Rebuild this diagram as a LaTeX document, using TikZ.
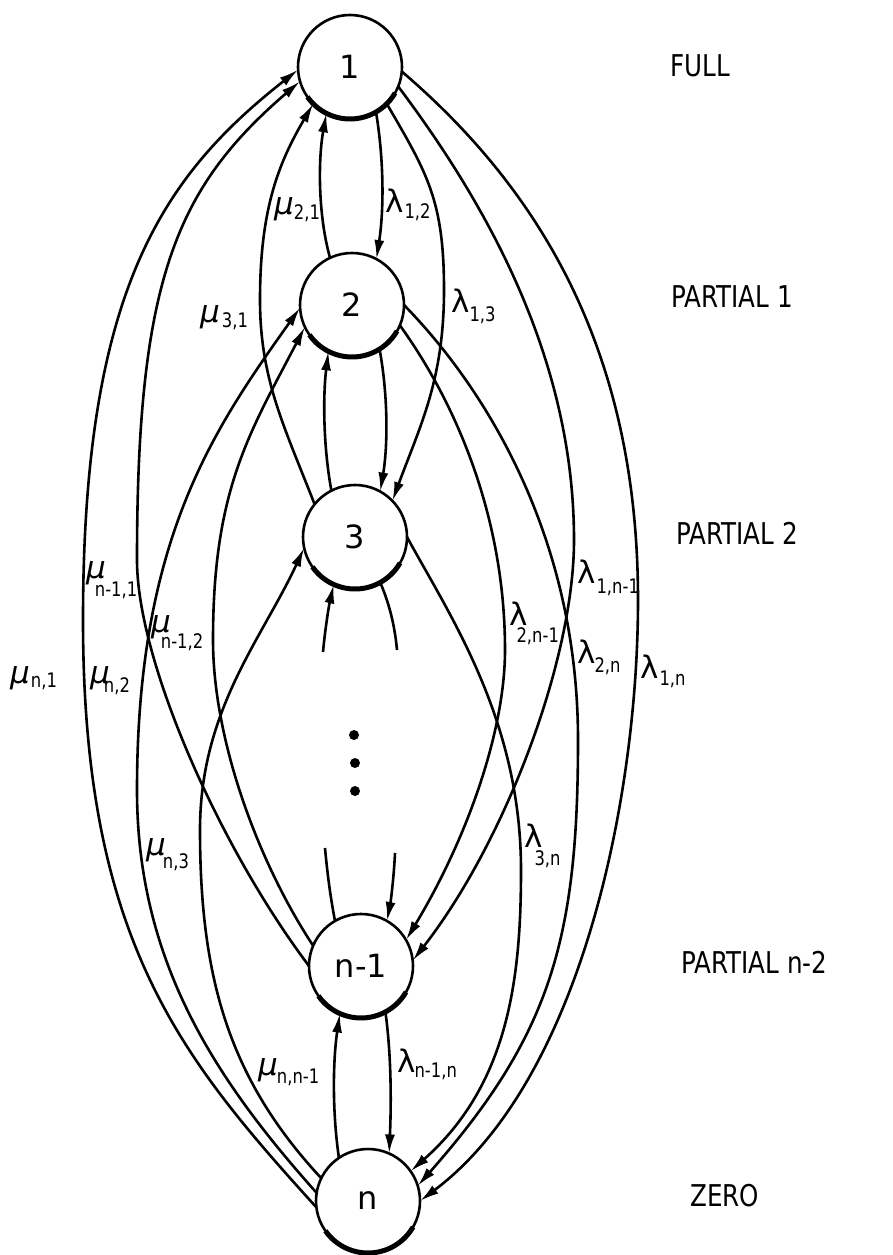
\documentclass[tikz,border=0pt]{standalone}
\usepackage{fontspec}
\setmainfont{DejaVu Sans}
\newfontfamily\cond[FakeStretch=0.82]{DejaVu Sans}
\usetikzlibrary{arrows.meta}
\newcommand{\subf}{\cond\fontsize{20}{20}\selectfont}
\newcommand{\gm}[3]{{\fontsize{31}{31}\selectfont\itshape μ}\kern#1pt\raisebox{-#3pt}{\subf #2}}
\newcommand{\gL}[3]{{\fontsize{31}{31}\selectfont λ}\kern#1pt\raisebox{-#3pt}{\subf #2}}
\begin{document}
\begin{tikzpicture}[x=1pt,y=-1pt,
  st/.style={circle,draw,line width=2.6pt,minimum size=104pt,inner sep=0pt,outer sep=0pt,font=\fontsize{32}{32}\selectfont},
  edge/.style={line width=2.6pt,-{Latex[length=19pt,width=10pt]}},
  plain/.style={line width=2.6pt},
  thk/.style={line width=5pt},
  lab/.style={inner sep=0pt,anchor=base west},
  state/.style={anchor=west,inner sep=0pt,font=\cond\fontsize{30}{30}\selectfont}]
\useasboundingbox (0,0) rectangle (893,1255);
\node[st] (n1) at (350,67) {1};
\node[st] (n2) at (352,305) {2};
\node[st] (n3) at (355,537) {3};
\node[st] (nm) at (361,966) {n-1};
\node[st] (nn) at (368,1201) {n};
\foreach \k in {n1,n2,n3,nm,nn} \draw[thk] (\k.215) arc[start angle=-215,end angle=-330,radius=52];
% mu edges (upward)
\draw[edge] (n2.115) .. controls (318,215) and (318,160) .. (n1.243);
\draw[edge] (n3.141) .. controls (285,428) and (260,380) .. (260,300) .. controls (260,210) and (278,164) .. (n1.225);
\draw[edge] (nm.180) .. controls (218,845) and (137,660) .. (137,560) .. controls (137,280) and (176,188) .. (n1.196);
\draw[edge] (nn.187) .. controls (181,1058) and (83,940) .. (83,620) .. controls (83,290) and (163,176) .. (n1.183);
\draw[edge] (n3.117) .. controls (323,445) and (323,395) .. (n2.243);
\draw[edge] (nn.171) .. controls (214,1078) and (137,960) .. (137,790) .. controls (137,540) and (213,430) .. (n2.183);
\draw[edge] (nm.157) .. controls (258,862) and (213,740) .. (213,640) .. controls (213,490) and (249,434) .. (n2.205);
\draw[edge] (nn.154) .. controls (230,1080) and (200,980) .. (200,830) .. controls (200,710) and (262,639) .. (n3.192);
\draw[edge] (nn.124) .. controls (332,1110) and (333,1060) .. (nm.246);
% lambda edges (downward)
\draw[edge] (n1.300) .. controls (384,160) and (384,210) .. (n2.62);
\draw[edge] (n1.315) .. controls (427,173) and (444,200) .. (444,290) .. controls (444,380) and (420,426) .. (n3.44);
\draw[edge] (n1.338) .. controls (488,206) and (574,360) .. (574,540) .. controls (574,660) and (505,842) .. (nm.6);
\draw[edge] (n1.355) .. controls (539,189) and (638,350) .. (638,600) .. controls (638,800) and (580,1081) .. (nn.0);
\draw[edge] (n2.302) .. controls (388,395) and (388,445) .. (n3.61);
\draw[edge] (n2.337) .. controls (458,406) and (505,520) .. (505,650) .. controls (505,730) and (468,837) .. (nm.30);
\draw[edge] (n2.0) .. controls (488,391) and (578,540) .. (578,740) .. controls (578,940) and (550,1036) .. (nn.17);
\draw[edge] (n3.0) .. controls (450,616) and (521,720) .. (521,870) .. controls (521,980) and (508,1085) .. (nn.35);
\draw[edge] (nm.298) .. controls (392,1060) and (391,1110) .. (nn.66);
% stubs
\coordinate (s1) at (397,650);
\coordinate (s2) at (323,652);
\coordinate (s3) at (325,848);
\coordinate (s4) at (395,853);
\draw[plain] (n3.299) .. controls (390,605) and (395,628) .. (s1);
\draw[edge] (s2) .. controls (325,630) and (329,605) .. (n3.246);
\draw[plain] (nm.120) .. controls (330,895) and (327,870) .. (s3);
\draw[edge] (s4) .. controls (394,875) and (391,900) .. (nm.60);
% dots
\fill (354,735) circle[radius=5];
\fill (355,763) circle[radius=5];
\fill (355,791) circle[radius=5];
% edge labels
\node[lab] (l21) at (274,214) {\gm{0}{2,1}{5}};
\node[lab] (l12) at (385,212) {\gL{1}{1,2}{6}};
\node[lab] (l13) at (451,312) {\gL{0}{1,3}{9}};
\node[lab] (l31) at (200,322) {\gm{2}{3,1}{5}};
\node[lab] (lm11) at (86,578) {\gm{-11}{n-1,1}{18}};
\node[lab] (lm12) at (151,632) {\gm{-10}{n-1,2}{16}};
\node[lab] (ln1) at (10,683) {\gm{1}{n,1}{4}};
\node[lab] (ln2) at (90,683) {\gm{-6}{n,2}{9}};
\node[lab] (ln3) at (146,855) {\gm{-3}{n,3}{13}};
\node[lab] (l1m) at (577,583) {\gL{1}{1,n-1}{10}};
\node[lab] (l2m) at (509,625) {\gL{-11}{2,n-1}{17}};
\node[lab] (l2n) at (577,663) {\gL{-1}{2,n}{9}};
\node[lab] (l1n) at (640,678) {\gL{1}{1,n}{7}};
\node[lab] (l3n) at (524,847) {\gL{-8}{3,n}{18}};
\node[lab] (lnm) at (258,1075) {\gm{-1}{n,n-1}{8}};
\node[lab] (lmn) at (397,1072) {\gL{-1}{n-1,n}{5}};
% state labels
\node[state] (sf) at (670,66) {FULL};
\node[state] (sp1) at (671,297) {PARTIAL 1};
\node[state] (sp2) at (676,533) {PARTIAL 2};
\node[state] (spn) at (681,962) {PARTIAL n-2};
\node[state] (sz) at (690,1196) {ZERO};
\end{tikzpicture}
\end{document}
